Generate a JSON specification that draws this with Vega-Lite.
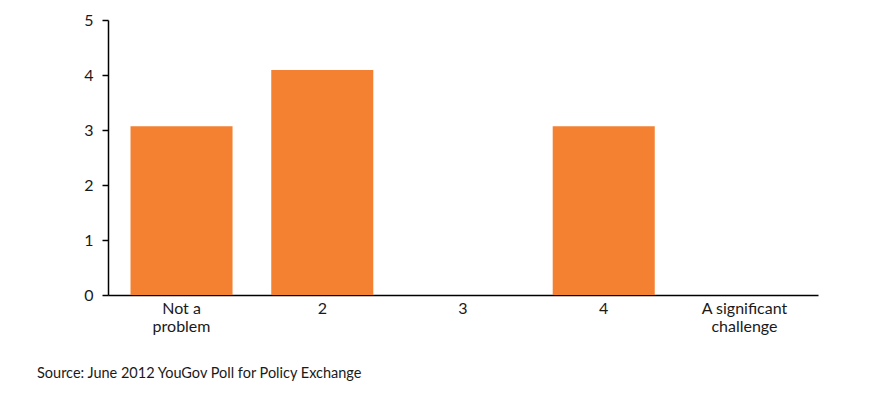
{
  "$schema": "https://vega.github.io/schema/vega-lite/v6.json",
  "width": 710,
  "height": 275,
  "autosize": {"type": "none"},
  "padding": {"left": 108, "top": 20, "right": 71, "bottom": 115},
  "background": "white",
  "config": {
    "view": {"stroke": null},
    "font": "Lato",
    "axis": {"labelFont": "Lato", "labelFontSize": 16, "labelColor": "#1a1a1a", "grid": false}
  },
  "title": {
    "text": "Source: June 2012 YouGov Poll for Policy Exchange",
    "orient": "bottom",
    "anchor": "start",
    "frame": "group",
    "font": "Lato",
    "fontSize": 14.5,
    "fontWeight": "normal",
    "color": "#1a1a1a",
    "dx": -71,
    "offset": 33
  },
  "data": {
    "values": [
      {"category": "Not a problem", "value": 3.07},
      {"category": "2", "value": 4.09},
      {"category": "3", "value": 0},
      {"category": "4", "value": 3.07},
      {"category": "A significant challenge", "value": 0}
    ]
  },
  "mark": {"type": "bar", "color": "#f48032"},
  "encoding": {
    "x": {
      "field": "category",
      "type": "nominal",
      "sort": null,
      "title": null,
      "scale": {"paddingInner": 0.275, "paddingOuter": 0.16},
      "axis": {
        "labelAngle": 0,
        "ticks": false,
        "domainColor": "#000000",
        "domainWidth": 1.5,
        "labelPadding": 5,
        "labelLineHeight": 18,
        "labelExpr": "datum.label == 'Not a problem' ? ['Not a', 'problem'] : datum.label == 'A significant challenge' ? ['A significant', 'challenge'] : datum.label"
      }
    },
    "y": {
      "field": "value",
      "type": "quantitative",
      "title": null,
      "scale": {"domain": [0, 5], "nice": false},
      "axis": {
        "values": [0, 1, 2, 3, 4, 5],
        "labelFontSize": 16,
        "domainColor": "#000000",
        "domainWidth": 1.5,
        "tickColor": "#000000",
        "tickWidth": 1.5,
        "tickSize": 6,
        "labelPadding": 9
      }
    }
  }
}
